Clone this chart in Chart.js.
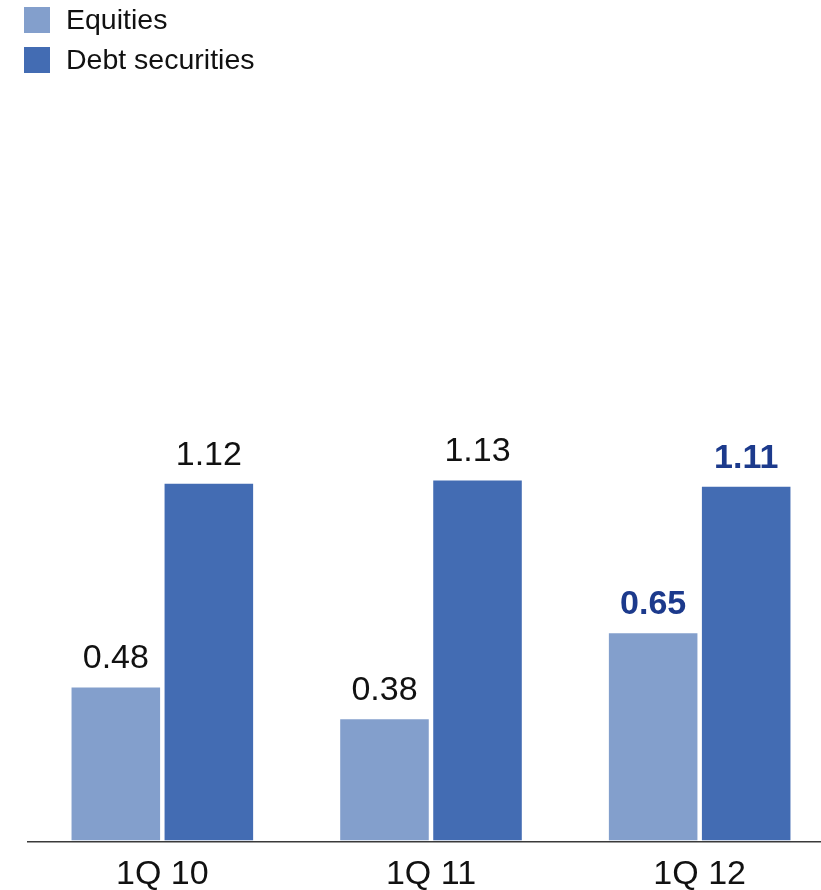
<!DOCTYPE html>
<html>
<head>
<meta charset="utf-8">
<script src="https://cdn.jsdelivr.net/npm/chart.js@4.4.1/dist/chart.umd.min.js"></script>
<style>
    html, body { margin: 0; padding: 0; background: #fff; overflow: hidden; }
    #wrap { position: relative; width: 840px; height: 910px; }
</style>
</head>
<body>
<div id="wrap"><canvas id="chart"></canvas></div>
<script>
// ========== DATA ==========
const quarters = ['1Q 10', '1Q 11', '1Q 12'];
const equities = [0.48, 0.38, 0.65];
const debtSecurities = [1.12, 1.13, 1.11];
const seriesNames = ['Equities', 'Debt securities'];
const highlightIndex = 2; // latest quarter shown in bold

const COLORS = {
    equities: '#839fcc',
    debt: '#436cb3',
    text: '#111111',
    highlight: '#1c3a8c',
    axis: '#3a3a3a'
};
const FONT = '"Liberation Sans", Arial, sans-serif';

// legend drawn in a vertical stack at the top left
const stackedLegend = {
    id: 'stackedLegend',
    afterDraw(chart) {
        const ctx = chart.ctx;
        ctx.save();
        ctx.font = `28.5px ${FONT}`;
        ctx.textBaseline = 'middle';
        ctx.textAlign = 'left';
        chart.data.datasets.forEach((ds, i) => {
            const y = 20 + i * 40;
            ctx.fillStyle = ds.backgroundColor;
            ctx.fillRect(24, y - 13, 26, 26);
            ctx.fillStyle = COLORS.text;
            ctx.fillText(ds.label, 66, y + 1);
        });
        ctx.restore();
    }
};

// value labels above each bar
const valueLabels = {
    id: 'valueLabels',
    afterDatasetsDraw(chart) {
        const ctx = chart.ctx;
        ctx.save();
        ctx.textAlign = 'center';
        ctx.textBaseline = 'alphabetic';
        chart.data.datasets.forEach((ds, di) => {
            const meta = chart.getDatasetMeta(di);
            meta.data.forEach((bar, i) => {
                const bold = i === highlightIndex;
                ctx.font = `${bold ? 'bold ' : ''}34px ${FONT}`;
                ctx.fillStyle = bold ? COLORS.highlight : COLORS.text;
                ctx.fillText(ds.data[i].toFixed(2), bar.x, bar.y - 19);
            });
        });
        ctx.restore();
    }
};

const ctx = document.getElementById('chart').getContext('2d');
new Chart(ctx, {
    type: 'bar',
    data: {
        labels: quarters,
        datasets: [{
            label: seriesNames[0],
            data: equities,
            backgroundColor: COLORS.equities,
            categoryPercentage: 0.6925,
            barPercentage: 0.952
        }, {
            label: seriesNames[1],
            data: debtSecurities,
            backgroundColor: COLORS.debt,
            categoryPercentage: 0.6925,
            barPercentage: 0.952
        }]
    },
    options: {
        responsive: true,
        maintainAspectRatio: false,
        animation: false,
        layout: { padding: { top: 108, left: 28, right: 6, bottom: 3 } },
        plugins: {
            legend: { display: false },
            tooltip: { enabled: false }
        },
        scales: {
            x: {
                grid: { display: false, drawTicks: false },
                border: { display: true, color: COLORS.axis, width: 1.5 },
                ticks: {
                    color: COLORS.text,
                    padding: 12,
                    font: { family: FONT, size: 34 }
                }
            },
            y: {
                display: false,
                min: -0.0063,
                max: 2.3
            }
        }
    },
    plugins: [stackedLegend, valueLabels]
});
</script>
</body>
</html>
